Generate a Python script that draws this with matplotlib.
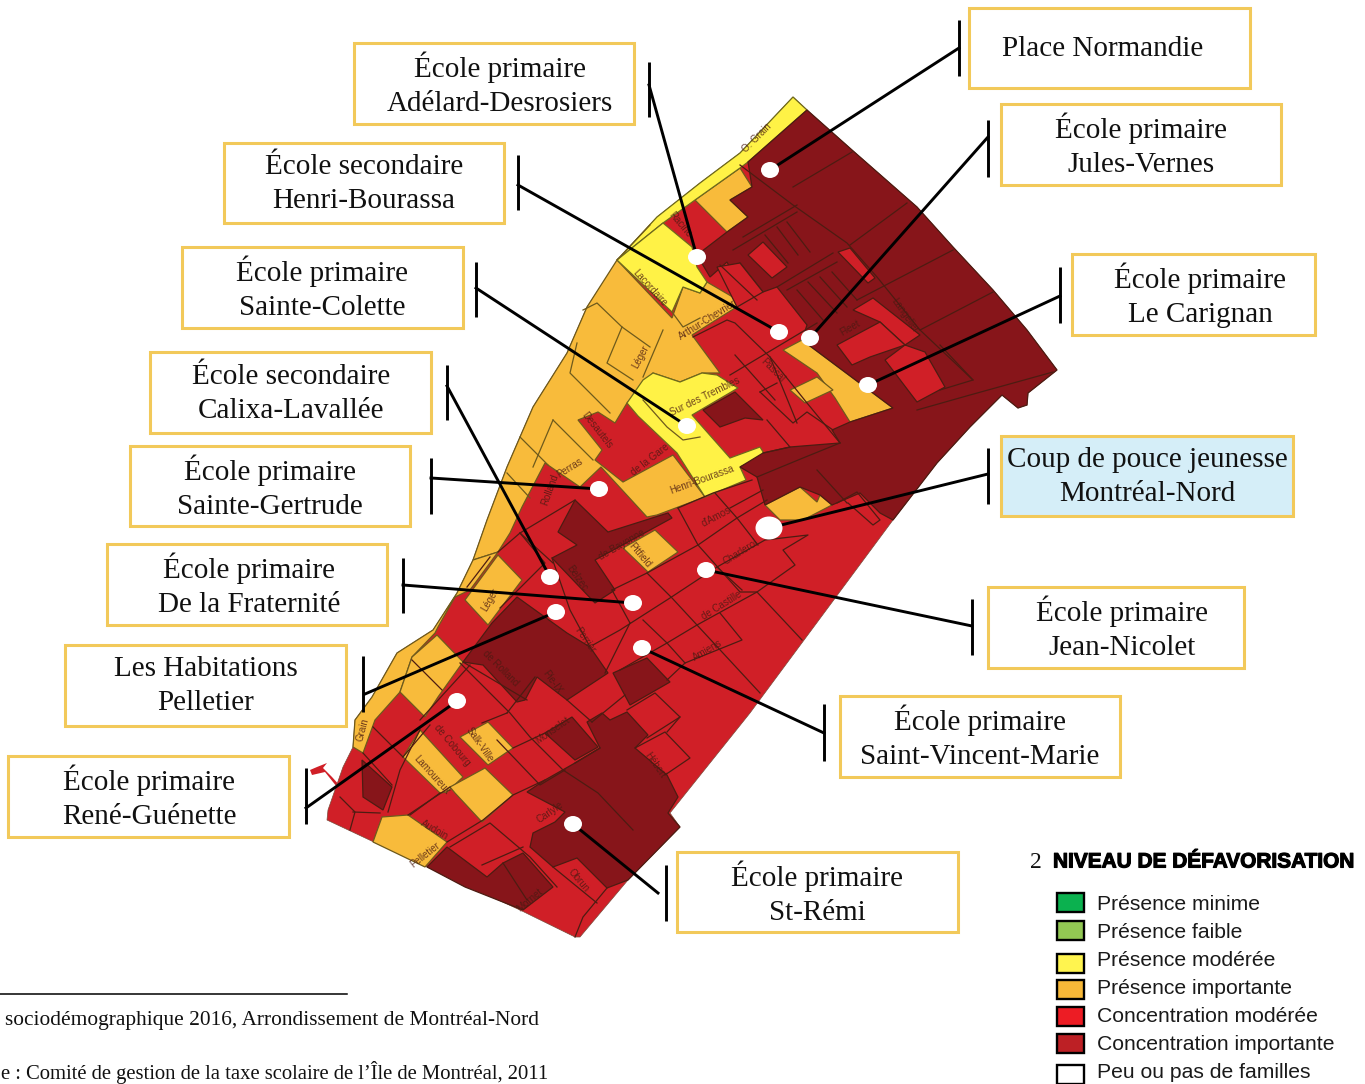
import matplotlib
matplotlib.use("Agg")
import matplotlib.pyplot as plt
import matplotlib.patheffects as pe
from matplotlib.patches import Polygon, Rectangle, Ellipse

RED = "#d01f27"
DARK = "#87151a"
ORANGE = "#f8bb3b"
YELLOW = "#fff246"
EDGE = "#4d1c12"
BOX = "#f2c95a"
SERIF = "Liberation Serif"
SANS = "Liberation Sans"

# map outline, pixel positions
outline = [(793,97),(807,110),(852,150),(917,207),(953,247),(993,290),(1027,330),(1057,370),(1028,393),(1027,405),
           (1018,408),(1002,395),(970,427),(937,463),(893,520),(750,713),(670,813),(680,827),(628,880),(580,937),
           (575,937),(520,910),(427,867),(327,820),(328,810),(343,767),(353,747),(355,720),(372,697),(397,653),
           (433,630),(457,593),(473,560),(487,520),(507,467),(533,407),(567,353),(587,307),(620,257),(657,217),
           (700,183),(740,153)]
river = [(310,770),(317,767),(327,763),(323,768),(332,777),(341,787),(337,787),(325,772),(312,775)]

orange_zones = [
    [(617,260),(672,318),(683,287),(700,293),(707,282),(743,303),(692,335),(720,373),(702,373),(680,382),(653,373),
     (627,403),(615,423),(598,412),(578,420),(602,450),(595,460),(623,482),(673,455),(705,497),(657,515),(647,517),
     (601,467),(580,487),(545,463),(522,507),(510,533),(498,552),(473,560),(487,520),(507,467),(533,407),(567,353),(587,307)],
    [(498,555),(522,580),(488,625),(465,600)],
    [(498,552),(470,590),(455,597),(438,627),(435,633),(412,657),(400,692),(375,720),(363,753),(353,747),(355,720),(372,697),(397,653),(433,630),(457,593),(473,560)],
    [(437,635),(463,662),(438,697),(425,717),(400,692),(412,657)],
    [(420,730),(463,777),(447,792),(440,793),(403,757)],
    [(450,787),(485,768),(513,795),(482,822),(455,793)],
    [(460,737),(488,722),(513,748),(488,765)],
    [(382,817),(408,815),(447,842),(425,867),(373,842)],
    [(555,822),(583,805),(610,833),(582,850)],
    [(623,548),(655,530),(678,552),(648,572)],
    [(765,505),(800,487),(817,502),(820,495),(832,505),(803,520),(780,520)],
    [(695,200),(740,168),(752,187),(730,200),(748,217),(727,232)],
    [(783,350),(802,340),(893,408),(850,422),(835,398),(817,373)],
    [(790,390),(817,377),(833,390),(805,403)],
]
yellow_zones = [
    [(793,97),(807,110),(748,162),(740,168),(695,200),(663,223),(617,260),(620,257),(657,217),(700,183),(740,153)],
    [(663,223),(692,247),(697,267),(707,282),(700,293),(683,287),(672,312),(617,260)],
    [(653,373),(680,382),(702,373),(717,375),(738,388),(692,415),(730,458),(760,447),(765,455),(740,467),(746,480),
     (705,497),(677,453),(638,416),(627,403),(643,380)],
]
dark_zones = [
    [(807,110),(852,150),(917,207),(953,247),(993,290),(1027,330),(1057,370),(1028,393),(1027,405),(1018,408),(1002,395),
     (970,427),(937,463),(893,520),(880,513),(860,493),(832,505),(820,495),(800,487),(765,505),(757,477),(740,467),(763,453),
     (790,447),(840,443),(832,430),(850,422),(893,408),(802,340),(807,325),(777,287),(763,292),(740,263),(730,268),(727,262),
     (710,277),(697,255),(727,232),(748,217),(730,200),(752,187),(748,162)],
    [(703,410),(735,392),(763,420),(745,418),(720,427)],
    [(558,532),(575,500),(608,532),(668,513),(672,518),(595,560),(615,590),(595,603),(552,558),(577,545)],
    [(517,597),(567,633),(590,647),(608,673),(567,700),(537,677),(525,700),(517,702),(483,665),(463,662),(492,623)],
    [(613,673),(647,658),(670,682),(630,705)],
    [(545,733),(572,717),(598,747),(575,760)],
    [(587,722),(602,713),(610,720),(627,712),(648,735),(635,748),(667,775),(678,797),(668,813),(680,827),(628,880),(607,888),
     (577,858),(553,867),(530,847),(533,833),(555,822),(565,812),(527,792),(545,780),(575,763),(600,748)],
    [(427,867),(447,847),(487,877),(503,863),(523,853),(553,887),(523,910),(465,887)],
    [(362,760),(392,787),(383,810),(363,797)],
]
red_patches = [
    [(853,310),(873,298),(920,335),(905,345),(925,352),(945,387),(917,402),(885,360),(905,345),(880,322)],
    [(837,345),(880,322),(905,345),(870,357),(852,365)],
    [(838,252),(850,248),(875,278),(868,283)],
    [(748,255),(763,242),(787,267),(772,278)],
    [(717,267),(740,263),(763,292),(737,307)],
]
streets = [
    [(740,165),(793,205),(847,243),(877,277),(920,330),(973,380)],
    [(793,187),(852,152)], [(850,245),(907,203)], [(857,300),(953,250)], [(920,330),(993,292)],
    [(917,410),(970,395),(1053,372)], [(940,345),(973,380),(940,390)], [(833,253),(777,287)], [(797,205),(743,237)],
    [(797,290),(823,320)], [(808,282),(837,313)], [(820,277),(847,307)], [(832,272),(857,300)], [(787,290),(837,262)],
    [(777,227),(798,255)], [(787,222),(810,252)], [(765,235),(788,263)], [(733,250),(797,212)], [(720,265),(757,300)],
    [(730,375),(817,323)], [(693,337),(727,320),(735,323),(770,357),(797,423)], [(760,392),(793,423),(807,412),(833,430)],
    [(777,383),(760,392)], [(770,357),(807,403),(840,443)], [(763,453),(790,447),(767,420)], [(735,355),(775,400)],
    [(498,552),(520,533),(575,500)], [(520,533),(553,563)], [(412,660),(442,690)], [(467,587),(490,557)],
    [(463,662),(527,700)], [(460,663),(510,713),(530,737),(563,770),(598,793),(633,830)], [(373,727),(403,757)],
    [(363,753),(392,785)], [(340,797),(355,812),(350,830)], [(380,813),(353,812)], [(410,815),(440,793)],
    [(447,842),(483,820),(513,795),(545,780)], [(450,847),(490,823),(530,857),(557,887)], [(482,865),(523,847)],
    [(503,863),(527,900)], [(553,867),(597,903)], [(575,937),(583,917),(607,888)], [(507,713),(535,677)],
    [(482,723),(507,713)], [(513,748),(545,733)], [(567,700),(592,722)], [(635,748),(665,732),(690,758),(665,775)],
    [(647,738),(680,717),(655,693),(627,710)], [(667,732),(680,717)],
    [(612,590),(647,573),(698,545),(737,518),(767,500)], [(630,623),(612,590)],
    [(593,645),(620,630),(670,598),(717,567),(765,540),(808,535),(783,550),(795,565),(757,592),(697,625),(667,643),(620,670)],
    [(667,680),(685,663),(742,640),(720,613)], [(678,508),(698,545),(740,592),(757,592),(802,640)],
    [(715,493),(737,518),(758,545)], [(647,573),(672,598),(697,625),(760,693)], [(717,567),(742,590)],
    [(643,620),(667,643),(685,663)], [(678,508),(713,493),(752,480)], [(730,508),(763,490)],
    [(848,503),(873,525),(880,520),(857,492),(837,503)], [(817,470),(847,503)],
    [(757,477),(803,458),(840,443)], [(590,647),(570,610),(552,558)], [(605,673),(630,623)],
    [(500,608),(545,563),(520,533)], [(420,720),(470,665)], [(592,722),(625,695)], [(403,757),(430,725)],
    [(388,812),(400,770),(420,730)], [(408,815),(450,787)], [(497,740),(540,785),(565,770)], [(575,763),(600,748)],
]
orange_streets = [
    [(583,310),(597,303),(622,327),(650,347)], [(622,327),(607,363),(633,380)], [(663,330),(643,377)],
    [(577,343),(570,373),(610,413)], [(520,437),(548,465)], [(553,420),(593,460)], [(553,420),(533,467)],
    [(507,473),(530,498)], [(672,312),(683,327),(700,318)], [(643,400),(667,427),(683,440),(700,437)],
    [(617,260),(650,225)],
]
street_names = [
    ("Lacordaire", 650,288,-48), ("Arthur-Chevrier", 708,320,32), ("Léger", 641,357,62), ("Sur des Trembles", 705,397,26),
    ("Henri-Bourassa", 702,480,20), ("de la Gare", 650,460,38), ("Desautels", 597,430,-52), ("Perras", 570,468,32),
    ("Rolland", 550,490,70), ("Pascal", 773,370,-45), ("Langelier", 905,315,-55), ("Fleet", 850,328,30),
    ("O. Grain", 757,138,45), ("Racine", 680,225,-50), ("Pitfield", 640,555,-50), ("de Bayonne", 622,545,30),
    ("Belzec", 577,578,-55), ("Perrier", 585,640,-55), ("d'Amos", 716,517,28), ("Charleroi", 741,552,32),
    ("de Castille", 722,605,32), ("Amiens", 708,650,30), ("Pie-IX", 552,682,-55), ("Hébert", 655,765,-55),
    ("Salk-Ville", 480,745,-55), ("Lamoureux", 432,775,-48), ("de Cobourg", 452,745,-50), ("de Rolland", 500,668,-45),
    ("Léger", 490,600,60), ("Grain", 363,730,75), ("Audoin", 435,830,-30), ("Pelletier", 425,855,38),
    ("Carlyle", 550,812,35), ("Obrun", 578,880,-50), ("Mornet", 530,900,40), ("Monselet", 553,730,35),
]

# label, box, text centre x, fill
box_labels = [
    ("Place Normandie", (969,8,1250,88), 1103, "white"),
    ("École primaire\nJules-Vernes", (1001,104,1281,185), 1141, "white"),
    ("École primaire\nLe Carignan", (1072,254,1315,335), 1200, "white"),
    ("Coup de pouce jeunesse\nMontréal-Nord", (1001,436,1293,516), 1147, "#d5eef8"),
    ("École primaire\nJean-Nicolet", (988,587,1244,668), 1122, "white"),
    ("École primaire\nSaint-Vincent-Marie", (840,696,1120,777), 980, "white"),
    ("École primaire\nSt-Rémi", (677,852,958,932), 817, "white"),
    ("École primaire\nAdélard-Desrosiers", (354,43,634,124), 500, "white"),
    ("École secondaire\nHenri-Bourassa", (224,143,504,223), 364, "white"),
    ("École primaire\nSainte-Colette", (182,247,463,328), 322, "white"),
    ("École secondaire\nCalixa-Lavallée", (150,352,431,433), 291, "white"),
    ("École primaire\nSainte-Gertrude", (130,446,410,526), 270, "white"),
    ("École primaire\nDe la Fraternité", (107,544,387,625), 249, "white"),
    ("Les Habitations\nPelletier", (65,645,346,726), 206, "white"),
    ("École primaire\nRené-Guénette", (8,756,289,837), 149, "white"),
]
# bar x, bar top, bar bottom, leader start, dot
leaders = [
    (959,20,76,(959,48),(770,170)), (988,120,177,(988,137),(810,338)), (1060,267,323,(1060,296),(868,385)),
    (988,448,504,(988,474),(769,528)), (972,599,655,(972,626),(706,570)), (824,704,761,(824,733),(642,648)),
    (666,865,921,(658,893),(573,824)), (649,62,117,(649,85),(697,257)), (518,155,210,(518,185),(779,332)),
    (476,262,317,(476,288),(687,426)), (447,365,420,(447,386),(550,577)), (431,458,514,(431,478),(599,489)),
    (403,558,613,(403,585),(633,603)), (363,656,712,(365,694),(556,612)), (306,768,824,(306,808),(457,701)),
]
legend_names = ["Présence minime", "Présence faible", "Présence modérée", "Présence importante",
                "Concentration modérée", "Concentration importante", "Peu ou pas de familles"]
legend_colors = ["#0bb14f", "#92c853", "#fff44f", "#f7b838", "#ed1c24", "#bd2025", "white"]
legend_tops = [893, 921, 954, 980, 1007, 1034, 1065]
legend_text_y = [904, 932, 960, 988, 1016, 1044, 1072]

fig = plt.figure(figsize=(13.65, 10.84), dpi=100)
ax = fig.add_axes([0, 0, 1, 1])
ax.set_xlim(0, 1365)
ax.set_ylim(1084, 0)
ax.axis("off")

ax.add_patch(Polygon(river, fc=RED, ec="none", zorder=1))
ax.add_patch(Polygon(outline, fc=RED, ec="#7a4a3a", lw=0.5, zorder=1))
for zones, col, ec, z in [(orange_zones, ORANGE, "#6e5a1c", 2), (yellow_zones, YELLOW, "#6e6a1c", 2.1),
                          (dark_zones, DARK, EDGE, 2.2), (red_patches, RED, EDGE, 2.3)]:
    for pts in zones:
        ax.add_patch(Polygon(pts, fc=col, ec=ec, lw=0.9, zorder=z))
for pts in streets:
    ax.plot([p[0] for p in pts], [p[1] for p in pts], color=EDGE, lw=0.9, zorder=3)
for pts in orange_streets:
    ax.plot([p[0] for p in pts], [p[1] for p in pts], color="#6e5a1c", lw=0.9, zorder=3)
for name, x, y, rot in street_names:
    ax.text(x, y, name, fontsize=7, family=SANS, color="#4a1a12", rotation=rot, ha="center", va="center",
            rotation_mode="anchor", alpha=0.8, zorder=3.2)

for bx, top, bottom, start, dot in leaders:
    ax.plot([bx, bx], [top, bottom], color="black", lw=2.1, zorder=4, solid_capstyle="butt")
    ax.plot([start[0], dot[0]], [start[1], dot[1]], color="black", lw=2.1, zorder=4)
    big = dot == (769, 528)
    ax.add_patch(Ellipse(dot, 27 if big else 18, 23 if big else 16, fc="white", ec="none", zorder=5))

for label, (x0, y0, x1, y1), tx, fill in box_labels:
    ax.add_patch(Rectangle((x0, y0), x1 - x0, y1 - y0, fc=fill, ec=BOX, lw=2.2, zorder=6))
    ax.text(tx, (y0 + y1) / 2 + 1, label, family=SERIF, fontsize=21, color="#111111", ha="center",
            va="center", linespacing=1.4, zorder=7)

ax.text(1036, 862, "2", family=SERIF, fontsize=17, ha="center", va="center", color="#111111")
ax.text(1053, 862, "NIVEAU DE DÉFAVORISATION", family=SANS, fontsize=15.0, weight="bold", va="center", color="black",
        path_effects=[pe.withStroke(linewidth=0.8, foreground="black")])
for name, col, top, ty in zip(legend_names, legend_colors, legend_tops, legend_text_y):
    ax.add_patch(Rectangle((1057, top), 27, 19, fc=col, ec="black", lw=1.7, zorder=6))
    ax.text(1097, ty, name, family=SANS, fontsize=15.2, va="center", color="#1a1a1a")

ax.plot([0, 347], [994, 994], color="black", lw=1.1)
# the page crops the start of both notes
ax.text(5, 1021, "sociodémographique 2016, Arrondissement de Montréal-Nord", family=SERIF, fontsize=15.4,
        ha="left", va="center", color="#111111")
ax.text(1, 1072, "e : Comité de gestion de la taxe scolaire de l’Île de Montréal, 2011", family=SERIF, fontsize=14.9,
        ha="left", va="center", color="#111111")

fig.savefig("out.png", dpi=100)
